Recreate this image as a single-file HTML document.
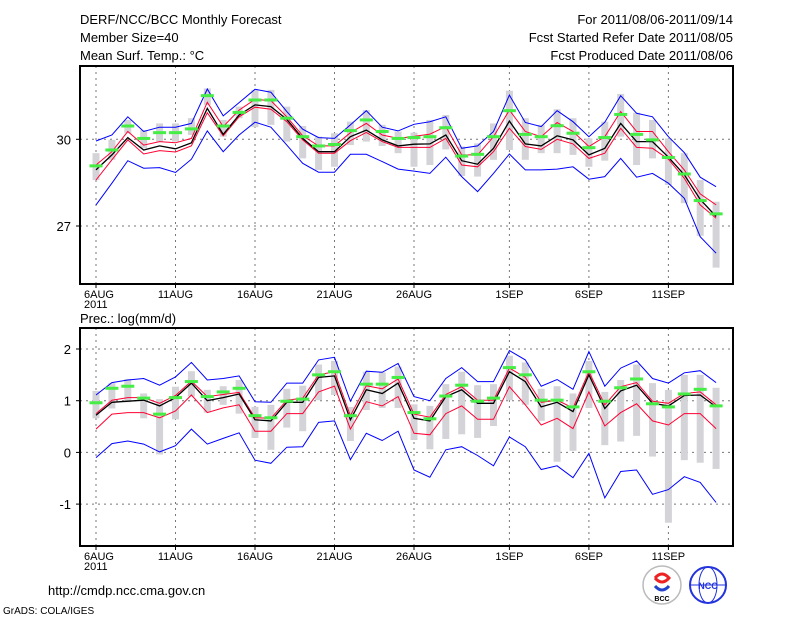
<!DOCTYPE html>
<html><head><meta charset="utf-8"><style>
html,body{margin:0;padding:0;background:#fff;}
svg{display:block;font-family:"Liberation Sans",sans-serif;}
</style></head><body>
<svg id="chart" width="800" height="618" viewBox="0 0 800 618" xmlns="http://www.w3.org/2000/svg">
<rect x="0" y="0" width="800" height="618" fill="#fff"/>
<g font-size="13" fill="#000">
<text x="80" y="24">DERF/NCC/BCC Monthly Forecast</text>
<text x="80" y="42">Member Size=40</text>
<text x="80" y="60">Mean Surf. Temp.: °C</text>
<text x="733" y="24" text-anchor="end">For 2011/08/06-2011/09/14</text>
<text x="733" y="42" text-anchor="end">Fcst Started Refer Date 2011/08/05</text>
<text x="733" y="60" text-anchor="end">Fcst Produced Date 2011/08/06</text>
<text x="80" y="323">Prec.: log(mm/d)</text>
<text x="48" y="595">http://cmdp.ncc.cma.gov.cn</text>
<text x="3" y="614" font-size="10">GrADS: COLA/IGES</text>
</g>
<g>
<circle cx="662" cy="585" r="19" fill="#fff" stroke="#bbb" stroke-width="1.5"/>
<path d="M655 578 q7 -8 14 0 q-7 8 -14 0" fill="none" stroke="#e22" stroke-width="3"/>
<path d="M655 586 q7 8 14 0" fill="none" stroke="#2244cc" stroke-width="3"/>
<text x="662" y="601" font-size="7" text-anchor="middle" font-weight="bold">BCC</text>
</g>
<g>
<circle cx="708" cy="585" r="18" fill="#fff" stroke="#2233dd" stroke-width="2"/>
<ellipse cx="708" cy="585" rx="9" ry="18" fill="none" stroke="#2233dd" stroke-width="1"/>
<line x1="690" y1="585" x2="726" y2="585" stroke="#2233dd"/>
<text x="708" y="589" font-size="9" text-anchor="middle" fill="#2233dd" font-weight="bold">NCC</text>
</g>
<g id="plots"></g>
</svg>
<script>
// ---- data: temperature panel ----
const days = ["6AUG","7AUG","8AUG","9AUG","10AUG","11AUG","12AUG","13AUG","14AUG","15AUG","16AUG","17AUG","18AUG","19AUG","20AUG","21AUG","22AUG","23AUG","24AUG","25AUG","26AUG","27AUG","28AUG","29AUG","30AUG","31AUG","1SEP","2SEP","3SEP","4SEP","5SEP","6SEP","7SEP","8SEP","9SEP","10SEP","11SEP","12SEP","13SEP","14SEP"];
const xTickIdx = [0,5,10,15,20,26,31,36];
const xTickLabels = ["6AUG","11AUG","16AUG","21AUG","26AUG","1SEP","6SEP","11SEP"];
const tTicks = [30,27];
const tMean = [28.94,29.46,30.06,29.63,29.77,29.67,29.88,31.07,30.17,30.84,31.19,31.13,30.69,30.03,29.57,29.57,30.09,30.32,29.98,29.77,29.83,29.84,30.15,29.26,29.14,29.69,30.63,29.84,29.77,30.12,29.98,29.46,29.69,30.55,29.92,29.92,29.38,28.77,27.92,27.33];
const tRedHi = [29.11,29.57,30.27,29.80,29.92,29.88,30.03,31.28,30.44,31.01,31.38,31.34,30.78,30.12,29.77,29.77,30.23,30.55,30.15,30.03,30.10,30.18,30.44,29.46,29.46,30.09,31.01,30.27,30.09,30.58,30.27,29.75,30.09,30.96,30.27,30.27,29.57,28.94,28.11,27.73];
const tRedLo = [28.59,29.29,29.98,29.49,29.61,29.56,29.77,30.92,30.12,30.78,31.11,31.04,30.61,29.98,29.52,29.52,29.95,30.24,29.92,29.72,29.72,29.72,30.03,29.11,29.05,29.57,30.38,29.75,29.65,30.00,29.84,29.34,29.52,30.38,29.72,29.69,29.31,28.65,27.73,27.27];
const tBlueHi = [29.94,30.15,30.78,30.27,30.42,30.42,30.55,31.74,30.81,31.27,31.73,31.63,30.96,30.35,30.06,30.03,30.50,30.99,30.42,30.29,30.52,30.61,30.78,29.69,29.77,30.27,31.53,30.58,30.44,30.99,30.61,30.09,30.59,31.51,30.90,30.78,30.09,29.54,28.69,28.36];
const tBlueLo = [27.73,28.48,29.26,29.00,29.02,28.85,29.31,30.29,29.57,30.15,30.59,30.42,29.80,29.17,28.86,28.86,29.48,29.48,29.23,28.97,28.90,28.82,29.38,28.71,28.19,28.82,29.49,28.94,28.94,28.97,29.05,28.62,28.71,29.34,28.69,28.82,28.48,27.96,26.63,26.06];
const tObs = [29.08,29.63,30.46,30.03,30.23,30.23,30.36,31.51,30.46,30.93,31.36,31.36,30.73,30.09,29.77,29.82,30.30,30.67,30.27,30.03,30.06,30.09,30.40,29.42,29.48,30.09,30.99,30.17,30.09,30.47,30.21,29.71,30.06,30.86,30.17,29.98,29.37,28.80,27.88,27.42];
const tBarHi = [29.52,29.98,30.67,30.32,30.55,30.55,30.73,31.76,30.67,31.13,31.71,31.71,31.13,30.46,30.09,30.21,30.61,31.01,30.50,30.27,30.23,30.67,30.84,29.75,29.86,30.55,31.68,30.73,30.50,31.04,30.73,30.03,30.61,31.57,30.92,30.67,30.03,29.52,28.59,27.84];
const tBarLo = [28.59,29.29,30.21,29.69,29.92,29.92,30.15,31.19,30.09,30.73,30.42,30.50,29.92,29.34,28.94,29.05,29.80,29.92,29.77,29.52,29.05,29.11,29.65,28.73,28.71,29.29,29.63,29.29,29.52,29.52,29.46,29.05,29.26,30.09,29.11,29.34,28.42,27.79,26.66,25.56];
// ---- data: precipitation panel ----
const pTicks = [2,1,0,-1];
const pMean = [0.72,0.97,0.99,1.01,0.90,1.06,1.34,1.00,1.06,1.13,0.63,0.61,0.97,0.97,1.45,1.48,0.63,1.21,1.14,1.34,0.66,0.61,1.08,1.21,0.95,0.95,1.56,1.37,0.88,0.97,0.79,1.50,0.85,1.19,1.30,0.95,0.90,1.10,1.11,0.88];
const pRedHi = [0.75,1.01,1.06,1.06,0.95,1.10,1.38,1.08,1.12,1.16,0.67,0.66,1.01,1.05,1.50,1.56,0.71,1.29,1.23,1.42,0.74,0.68,1.12,1.27,1.01,1.01,1.63,1.45,0.97,1.01,0.86,1.56,0.92,1.27,1.35,0.99,0.95,1.14,1.17,0.92];
const pRedLo = [0.45,0.74,0.77,0.77,0.67,0.80,1.11,0.77,0.86,0.92,0.41,0.41,0.75,0.75,1.17,1.28,0.45,0.98,0.90,1.08,0.37,0.34,0.75,0.90,0.64,0.64,1.27,0.92,0.53,0.66,0.46,1.17,0.51,0.77,0.94,0.61,0.53,0.75,0.75,0.46];
const pBlueHi = [1.11,1.35,1.40,1.43,1.30,1.46,1.74,1.40,1.43,1.48,0.98,0.97,1.34,1.34,1.79,1.84,0.99,1.57,1.55,1.72,1.08,1.00,1.43,1.64,1.37,1.37,1.97,1.79,1.28,1.41,1.22,1.95,1.28,1.63,1.77,1.43,1.34,1.54,1.58,1.35];
const pBlueLo = [-0.10,0.17,0.22,0.16,0.01,0.13,0.45,0.16,0.27,0.38,-0.15,-0.21,0.10,0.11,0.58,0.61,-0.14,0.37,0.23,0.41,-0.34,-0.48,0.05,0.11,-0.06,-0.26,0.30,0.11,-0.33,-0.26,-0.49,-0.02,-0.88,-0.37,-0.34,-0.81,-0.72,-0.47,-0.58,-0.97];
const pObs = [0.96,1.24,1.28,1.05,0.74,1.06,1.37,1.08,1.17,1.24,0.71,0.67,0.99,1.03,1.50,1.56,0.71,1.32,1.32,1.45,0.77,0.65,1.09,1.30,0.99,1.05,1.64,1.50,1.01,1.01,0.88,1.56,0.99,1.25,1.42,0.94,0.88,1.13,1.22,0.90];
const pBarHi = [1.19,1.34,1.42,1.14,1.03,1.27,1.57,1.21,1.28,1.40,0.88,0.92,1.23,1.29,1.70,1.77,0.88,1.56,1.55,1.66,0.93,0.90,1.32,1.56,1.30,1.32,1.87,1.74,1.23,1.28,1.14,1.77,1.17,1.40,1.70,1.34,1.21,1.50,1.50,1.25];
const pBarLo = [0.66,0.85,0.97,0.66,-0.04,0.64,1.08,0.77,0.92,0.75,0.28,0.05,0.48,0.41,1.01,1.11,0.22,0.82,0.86,0.86,0.24,0.06,0.26,0.35,0.28,0.51,1.01,0.92,0.61,-0.18,0.03,0.86,0.14,0.21,0.32,-0.08,-1.36,-0.15,-0.20,-0.32];

const NS = "http://www.w3.org/2000/svg";
const root = document.getElementById('plots');
const X0 = 96, DX = 15.9;
function xs(i){ return X0 + DX*i; }
function mk(tag, attrs, parent){
  const e = document.createElementNS(NS, tag);
  for (const k in attrs) e.setAttribute(k, attrs[k]);
  (parent||root).appendChild(e);
  return e;
}

function panel(cfg){
  const g = mk('g', {});
  
  
  const ys = cfg.ys;
  // gridlines
  xTickIdx.forEach(function(i){
    const l = mk('line', {x1:xs(i), x2:xs(i), y1:cfg.top, y2:cfg.bottom, stroke:'#777', 'stroke-dasharray':'2,4', 'stroke-width':1}, g);
    
    
  });
  cfg.ticks.forEach(function(v){
    const l = mk('line', {x1:80, x2:733, y1:ys(v), y2:ys(v), stroke:'#777', 'stroke-dasharray':'2,4', 'stroke-width':1}, g);
    
    
    const t = mk('line', {x1:76, x2:80, y1:ys(v), y2:ys(v), stroke:'#000'}, g);
    
    
    const tx = mk('text', {x:71, y:ys(v)+5, 'font-size':13, 'text-anchor':'end'}, g);
    tx.textContent = String(v);
    
    
  });
  // gray bars
  for (let i=0;i<days.length;i++){
    const a = ys(cfg.barHi[i]), b = ys(cfg.barLo[i]);
    const r = mk('rect', {x:xs(i)-3.5, y:Math.min(a,b), width:7, height:Math.abs(b-a), fill:'#d4d4d8'}, g);
    
    
  }
  function line(arr, color, w, name){
    const pts = arr.map(function(v,i){ return xs(i).toFixed(1)+','+ys(v).toFixed(1); }).join(' ');
    const p = mk('polyline', {points:pts, fill:'none', stroke:color, 'stroke-width':w}, g);
    
    
  }
  line(cfg.blueHi, '#0000ff', 1, 'ensemble-max-line');
  line(cfg.blueLo, '#0000ff', 1, 'ensemble-min-line');
  line(cfg.redHi, '#ff0033', 1, 'upper-spread-line');
  line(cfg.redLo, '#ff0033', 1, 'lower-spread-line');
  line(cfg.mean, '#000000', 1.3, 'ensemble-mean-line');
  for (let i=0;i<days.length;i++){
    const r = mk('rect', {x:xs(i)-6.5, y:ys(cfg.obs[i])-1.5, width:13, height:3, fill:'#44ee44'}, g);
    
    
  }
  // frame
  const f = mk('rect', {x:80, y:cfg.top, width:653, height:cfg.bottom-cfg.top, fill:'none', stroke:'#000', 'stroke-width':2}, g);
  
  
  xTickIdx.forEach(function(i, k){
    const t = mk('line', {x1:xs(i), x2:xs(i), y1:cfg.bottom, y2:cfg.bottom+4, stroke:'#000'}, g);
    
    
    const tx = mk('text', {x:xs(i)-(k===0?12:0), y:cfg.bottom+14, 'font-size':11, 'text-anchor':k===0?'start':'middle'}, g);
    tx.textContent = xTickLabels[k];
    
    
  });
  const yr = mk('text', {x:xs(0)-12, y:cfg.bottom+24, 'font-size':11}, g);
  yr.textContent = '2011';
  
  
}

panel({name:'temperature-panel', top:66, bottom:284, ticks:tTicks,
  ys:function(v){ return 139.3 - (v-30)*28.9; },
  mean:tMean, redHi:tRedHi, redLo:tRedLo, blueHi:tBlueHi, blueLo:tBlueLo, obs:tObs, barHi:tBarHi, barLo:tBarLo});
panel({name:'precipitation-panel', top:328, bottom:546, ticks:pTicks,
  ys:function(v){ return 400.7 - (v-1)*51.7; },
  mean:pMean, redHi:pRedHi, redLo:pRedLo, blueHi:pBlueHi, blueLo:pBlueLo, obs:pObs, barHi:pBarHi, barLo:pBarLo});
</script>
</body></html>
